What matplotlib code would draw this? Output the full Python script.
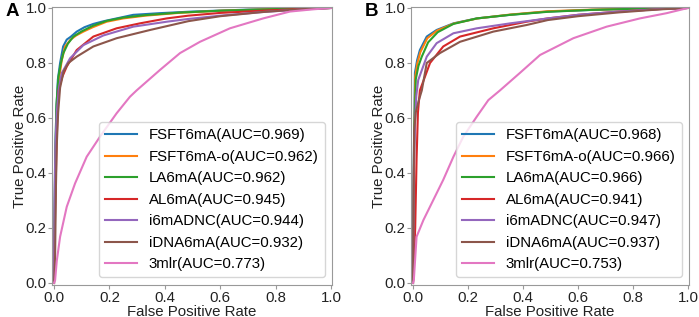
import matplotlib
matplotlib.use('Agg')
from matplotlib import pyplot as plt

plt.rcParams['font.family'] = ['Liberation Sans', 'DejaVu Sans']

# model names and colours (same order in both panels)
models = ['FSFT6mA', 'FSFT6mA-o', 'LA6mA', 'AL6mA', 'i6mADNC', 'iDNA6mA', '3mlr']
colors = ['#1f77b4', '#ff7f0e', '#2ca02c', '#d62728', '#9467bd', '#8c564b', '#e377c2']

# AUC values read from the legends
auc_a = [0.969, 0.962, 0.962, 0.945, 0.944, 0.932, 0.773]
auc_b = [0.968, 0.966, 0.966, 0.941, 0.947, 0.937, 0.753]

# ROC points (fpr, tpr)
fpr_a_fsft = [0, 0.004, 0.008, 0.014, 0.022, 0.033, 0.046, 0.06, 0.082, 0.11, 0.142, 0.18, 0.226, 0.286, 0.38, 0.5, 0.7, 0.85, 1]
tpr_a_fsft = [0, 0.40, 0.62, 0.74, 0.80, 0.86, 0.885, 0.895, 0.914, 0.93, 0.942, 0.952, 0.962, 0.975, 0.981, 0.987, 0.994, 0.997, 1]
fpr_a_fsfto = [0, 0.005, 0.01, 0.018, 0.028, 0.04, 0.06, 0.08, 0.106, 0.14, 0.19, 0.25, 0.33, 0.45, 0.6, 0.8, 1]
tpr_a_fsfto = [0, 0.40, 0.62, 0.74, 0.81, 0.86, 0.885, 0.90, 0.914, 0.93, 0.95, 0.962, 0.972, 0.982, 0.99, 0.996, 1]
fpr_a_la = [0, 0.004, 0.009, 0.016, 0.025, 0.034, 0.05, 0.07, 0.1, 0.14, 0.19, 0.25, 0.33, 0.45, 0.6, 0.8, 1]
tpr_a_la = [0, 0.45, 0.65, 0.75, 0.80, 0.836, 0.87, 0.896, 0.915, 0.935, 0.953, 0.965, 0.974, 0.983, 0.99, 0.996, 1]
fpr_a_al = [0, 0.004, 0.008, 0.012, 0.016, 0.03, 0.046, 0.082, 0.142, 0.226, 0.31, 0.407, 0.485, 0.6, 0.75, 0.9, 1]
tpr_a_al = [0, 0.25, 0.45, 0.60, 0.70, 0.75, 0.787, 0.847, 0.896, 0.926, 0.944, 0.962, 0.972, 0.982, 0.99, 0.997, 1]
fpr_a_i6 = [0, 0.002, 0.005, 0.01, 0.018, 0.028, 0.058, 0.106, 0.178, 0.286, 0.407, 0.485, 0.6, 0.75, 0.9, 1]
tpr_a_i6 = [0, 0.30, 0.50, 0.62, 0.71, 0.763, 0.817, 0.865, 0.90, 0.932, 0.95, 0.96, 0.972, 0.985, 0.995, 1]
fpr_a_idna = [0, 0.004, 0.007, 0.01, 0.015, 0.022, 0.035, 0.052, 0.082, 0.142, 0.226, 0.347, 0.485, 0.6, 0.75, 0.9, 1]
tpr_a_idna = [0, 0.10, 0.35, 0.50, 0.62, 0.71, 0.77, 0.80, 0.823, 0.86, 0.89, 0.92, 0.952, 0.97, 0.985, 0.996, 1]
fpr_a_3mlr = [0, 0.004, 0.01, 0.022, 0.046, 0.076, 0.118, 0.166, 0.226, 0.274, 0.298, 0.383, 0.455, 0.527, 0.635, 0.755, 0.852, 0.935, 1]
tpr_a_3mlr = [0, 0.01, 0.08, 0.168, 0.277, 0.362, 0.459, 0.532, 0.617, 0.677, 0.70, 0.775, 0.836, 0.877, 0.926, 0.962, 0.987, 0.995, 1]

# ROC points
fpr_b_fsft = [0, 0.003, 0.007, 0.015, 0.025, 0.05, 0.086, 0.147, 0.232, 0.353, 0.49, 0.65, 0.8, 1]
tpr_b_fsft = [0, 0.45, 0.764, 0.81, 0.847, 0.896, 0.92, 0.944, 0.962, 0.975, 0.987, 0.993, 0.997, 1]
fpr_b_fsfto = [0, 0.004, 0.008, 0.016, 0.027, 0.052, 0.088, 0.15, 0.235, 0.353, 0.49, 0.65, 0.8, 1]
tpr_b_fsfto = [0, 0.45, 0.75, 0.80, 0.84, 0.89, 0.918, 0.944, 0.962, 0.976, 0.988, 0.994, 0.997, 1]
fpr_b_la = [0, 0.004, 0.01, 0.02, 0.032, 0.055, 0.09, 0.147, 0.232, 0.353, 0.49, 0.65, 0.8, 1]
tpr_b_la = [0, 0.50, 0.74, 0.79, 0.823, 0.875, 0.912, 0.942, 0.962, 0.975, 0.986, 0.993, 0.997, 1]
fpr_b_al = [0, 0.008, 0.013, 0.018, 0.025, 0.062, 0.11, 0.171, 0.292, 0.413, 0.49, 0.6, 0.75, 0.9, 1]
tpr_b_al = [0, 0.20, 0.45, 0.62, 0.70, 0.80, 0.86, 0.896, 0.926, 0.95, 0.962, 0.975, 0.987, 0.996, 1]
fpr_b_i6 = [0, 0.003, 0.008, 0.012, 0.019, 0.05, 0.086, 0.147, 0.232, 0.353, 0.49, 0.6, 0.75, 0.9, 1]
tpr_b_i6 = [0, 0.40, 0.60, 0.68, 0.738, 0.823, 0.872, 0.908, 0.926, 0.944, 0.962, 0.975, 0.987, 0.996, 1]
fpr_b_idna = [0, 0.002, 0.004, 0.01, 0.02, 0.032, 0.05, 0.098, 0.171, 0.292, 0.413, 0.49, 0.6, 0.75, 0.9, 1]
tpr_b_idna = [0, 0.30, 0.55, 0.62, 0.66, 0.70, 0.80, 0.836, 0.877, 0.914, 0.938, 0.956, 0.97, 0.984, 0.995, 1]
fpr_b_3mlr = [0, 0.003, 0.013, 0.038, 0.074, 0.11, 0.147, 0.183, 0.232, 0.274, 0.316, 0.389, 0.462, 0.583, 0.704, 0.825, 0.922, 1]
tpr_b_3mlr = [0, 0.01, 0.168, 0.229, 0.302, 0.375, 0.459, 0.532, 0.605, 0.665, 0.70, 0.764, 0.829, 0.89, 0.932, 0.962, 0.981, 1]

curves_a = [(fpr_a_fsft, tpr_a_fsft), (fpr_a_fsfto, tpr_a_fsfto), (fpr_a_la, tpr_a_la),
            (fpr_a_al, tpr_a_al), (fpr_a_i6, tpr_a_i6), (fpr_a_idna, tpr_a_idna), (fpr_a_3mlr, tpr_a_3mlr)]
curves_b = [(fpr_b_fsft, tpr_b_fsft), (fpr_b_fsfto, tpr_b_fsfto), (fpr_b_la, tpr_b_la),
            (fpr_b_al, tpr_b_al), (fpr_b_i6, tpr_b_i6), (fpr_b_idna, tpr_b_idna), (fpr_b_3mlr, tpr_b_3mlr)]

ticks = [0.0, 0.2, 0.4, 0.6, 0.8, 1.0]
fs = 10.8

fig = plt.figure(figsize=(6.99, 3.17), dpi=100)
ax_a = fig.add_axes([0.0744, 0.101, 0.4006, 0.877])
ax_b = fig.add_axes([0.588, 0.101, 0.3977, 0.877])

for ax, curves, aucs, letter in [(ax_a, curves_a, auc_a, 'A'), (ax_b, curves_b, auc_b, 'B')]:
    for (fpr, tpr), name, auc, c in zip(curves, models, aucs, colors):
        ax.plot(fpr, tpr, color=c, lw=1.5, label='%s(AUC=%.3f)' % (name, auc))
    ax.set_xlim(-0.0072, 1.0036)
    ax.set_ylim(-0.0073, 1.0036)
    ax.set_xticks(ticks)
    ax.set_yticks(ticks)
    ax.set_xticklabels(['%.1f' % t for t in ticks])
    ax.set_yticklabels(['%.1f' % t for t in ticks])
    ax.tick_params(labelsize=fs, colors='#999999', labelcolor='#222222', length=3, pad=1)
    for s in ax.spines.values():
        s.set_color('#999999')
    ax.set_xlabel('False Positive Rate', fontsize=fs, color='#222222', labelpad=0)
    ax.set_ylabel('True Positive Rate', fontsize=fs, color='#222222', labelpad=-1)
    ax.legend(loc='lower right', fontsize=fs, handlelength=2.1)
    pos = ax.get_position()
    fig.text(pos.x0 - 0.066, 0.99, letter, fontsize=13.5, fontweight='bold', va='top', ha='left')

fig.savefig('out.png', dpi=100)
